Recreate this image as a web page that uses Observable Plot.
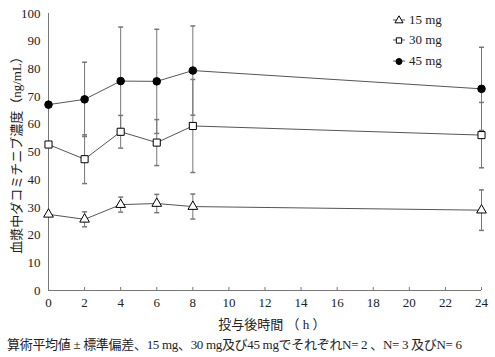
<!DOCTYPE html>
<html><head><meta charset="utf-8">
<script src="https://cdn.jsdelivr.net/npm/d3@7"></script>
<script src="https://cdn.jsdelivr.net/npm/@observablehq/plot@0.6"></script>
<style>
body{margin:0;background:#fff;}
#wrap{position:relative;width:495px;height:357px;font-family:"Liberation Serif","Noto Sans CJK JP",serif;}
#wrap > svg{position:absolute;left:0;top:0;}
#leg{position:absolute;left:392px;top:10px;font-size:13px;color:#222;}
#leg div{height:20.3px;display:flex;align-items:center;}
#leg svg{margin-right:3px;}
</style></head>
<body><div id="wrap"><div id="leg"></div></div>
<script>
const times = [0, 2, 4, 6, 8, 24];
const seriesNames = ["15 mg", "30 mg", "45 mg"];
const mean15 = [27.5, 25.7, 31.0, 31.4, 30.3, 29.0];
const sd15   = [null, 2.7, 2.7, 3.3, 4.5, 7.3];
const mean30 = [52.7, 47.4, 57.3, 53.4, 59.4, 56.1];
const sd30   = [null, 8.8, 5.9, 8.3, 16.8, 11.8];
const mean45 = [67.1, 69.0, 75.6, 75.5, 79.4, 72.8];
const sd45   = [null, 13.4, 19.5, 18.8, 16.1, 15.0];
const xTicks = [0, 2, 4, 6, 8, 10, 12, 14, 16, 18, 20, 22, 24];
const yTicks = [0, 10, 20, 30, 40, 50, 60, 70, 80, 90, 100];
const xLabel = "投与後時間 （ h ）";
const yLabel = "血漿中ダコミチニブ濃度（ng/mL）";
const caption = "算術平均値 ± 標準偏差、15 mg、30 mg及び45 mgでそれぞれN= 2 、N= 3 及びN= 6";

const means = [mean15, mean30, mean45];
const sds = [sd15, sd30, sd45];
const data = [];
seriesNames.forEach((s, i) => times.forEach((t, j) => data.push({series: s, t, m: means[i][j], sd: sds[i][j]})));
const bars = data.filter(d => d.sd != null);

const capSym = {draw(ctx){ ctx.moveTo(-2.5,0); ctx.lineTo(2.5,0); }};
const styles = {
  "15 mg": {symbol: "triangle", fill: "white", r: 3.6},
  "30 mg": {symbol: "square", fill: "white", r: 4.0},
  "45 mg": {symbol: "circle", fill: "black", r: 3.8}
};

const dotMarks = seriesNames.map(s => Plot.dot(data.filter(d => d.series === s), {
  x: "t", y: "m", symbol: styles[s].symbol, fill: styles[s].fill, stroke: "black", strokeWidth: 1, r: styles[s].r
}));

const plot = Plot.plot({
  width: 495, height: 357,
  marginLeft: 48, marginRight: 14, marginTop: 13, marginBottom: 67,
  style: {fontFamily: '"Liberation Serif","Noto Sans CJK JP",serif', fontSize: "13px", color: "#222", background: "transparent"},
  x: {domain: [0, 24]},
  y: {domain: [0, 100]},
  marks: [
    Plot.ruleX(bars, {x: "t", y1: d => d.m - d.sd, y2: d => d.m + d.sd, stroke: "#777", strokeWidth: 1}),
    Plot.dot(bars, {x: "t", y: d => d.m - d.sd, symbol: capSym, stroke: "#777", r: 3}),
    Plot.dot(bars, {x: "t", y: d => d.m + d.sd, symbol: capSym, stroke: "#777", r: 3}),
    Plot.ruleY([0], {stroke: "#777"}),
    Plot.ruleX([0], {stroke: "#777"}),
    Plot.axisX({ticks: xTicks, tickSize: -3, tickPadding: 10, stroke: "#777", label: null, fontSize: 13}),
    Plot.axisY({ticks: yTicks, tickSize: 0, tickPadding: 8, label: null, fontSize: 13}),
    Plot.line(data, {x: "t", y: "m", z: "series", stroke: "#555", strokeWidth: 1}),
    ...dotMarks
  ]
});
const wrap = document.getElementById("wrap");
wrap.insertBefore(plot, wrap.firstChild);

// text overlay: axis titles and caption
const ns = "http://www.w3.org/2000/svg";
const ov = document.createElementNS(ns, "svg");
ov.setAttribute("width", 495); ov.setAttribute("height", 357);
ov.style.fontFamily = '"Liberation Serif","Noto Sans CJK JP",serif';
ov.style.fontSize = "13px";
function addText(str, attrs) {
  const t = document.createElementNS(ns, "text");
  for (const k in attrs) t.setAttribute(k, attrs[k]);
  t.setAttribute("fill", "#222");
  t.textContent = str;
  ov.appendChild(t);
}
addText(xLabel, {x: 272, y: 324, "text-anchor": "middle", "dominant-baseline": "central"});
addText(yLabel, {transform: "translate(16,152) rotate(-90)", "text-anchor": "middle", "dominant-baseline": "central"});
addText(caption, {x: 7, y: 344, "dominant-baseline": "central", textLength: 455, lengthAdjust: "spacing"});
wrap.appendChild(ov);

const leg = document.getElementById("leg");
const sym = {triangle: d3.symbolTriangle, square: d3.symbolSquare, circle: d3.symbolCircle};
seriesNames.forEach(s => {
  const row = document.createElement("div");
  const st = styles[s];
  const p = d3.symbol(sym[st.symbol], Math.PI * 3 * 3)();
  row.innerHTML = `<svg width="14" height="12"><line x1="1" x2="13" y1="6" y2="6" stroke="#555"/><path d="${p}" transform="translate(7,6.5)" fill="${st.fill}" stroke="black"/></svg><span>${s}</span>`;
  leg.appendChild(row);
});
</script>
</body></html>
